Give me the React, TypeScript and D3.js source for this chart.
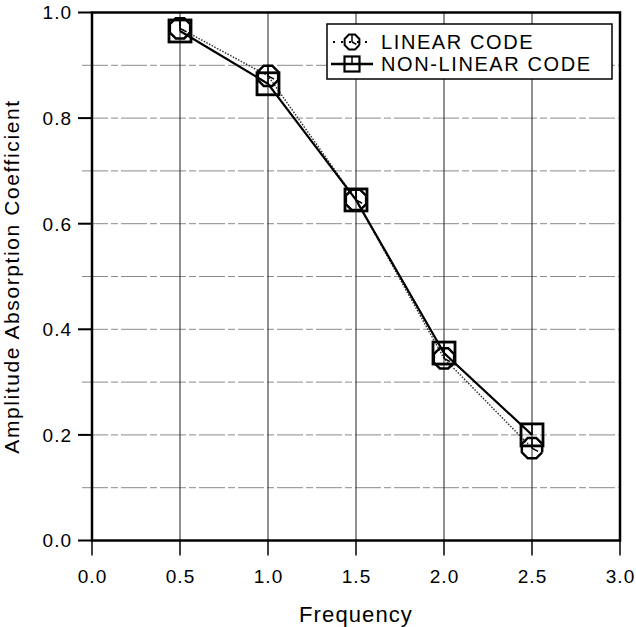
import React from "react";
import * as d3 from "d3";

const frequencies = [0.5, 1.0, 1.5, 2.0, 2.5];
const linearCode = [0.97, 0.88, 0.645, 0.345, 0.175];
const nonLinearCode = [0.965, 0.865, 0.645, 0.355, 0.2];
const xTicks = [0.0, 0.5, 1.0, 1.5, 2.0, 2.5, 3.0];
const yTicks = [0.0, 0.2, 0.4, 0.6, 0.8, 1.0];
const yGrid = [0.1, 0.2, 0.3, 0.4, 0.5, 0.6, 0.7, 0.8, 0.9];
const xGrid = [0.5, 1.0, 1.5, 2.0, 2.5];

const W = 636;
const H = 627;
const left = 92;
const right = 620;
const top = 12.5;
const bottom = 540.5;
const FONT = "'Liberation Sans', Arial, Helvetica, sans-serif";

const x = d3.scaleLinear().domain([0, 3]).range([left, right]);
const y = d3.scaleLinear().domain([0, 1]).range([bottom, top]);

function octagonPath(cx: number, cy: number, r: number) {
  const pts = d3.range(8).map((i) => {
    const a = Math.PI / 8 + (i * Math.PI) / 4;
    return [cx + r * Math.cos(a), cy + r * Math.sin(a)] as [number, number];
  });
  return d3.line()(pts.concat([pts[0]])) as string;
}

function Circ({ cx, cy, r, w = 2.5 }: { cx: number; cy: number; r: number; w?: number }) {
  return (
    <g stroke="#000" fill="none" strokeWidth={w}>
      <path d={octagonPath(cx, cy, r)} />
      <line x1={cx} y1={cy - r} x2={cx} y2={cy} strokeWidth={1.5} />
      <line x1={cx} y1={cy} x2={cx + r * 0.55} y2={cy + r * 0.3} strokeWidth={1.5} />
    </g>
  );
}

function Sq({ cx, cy, s, w = 2.8 }: { cx: number; cy: number; s: number; w?: number }) {
  return (
    <g stroke="#000" fill="none" strokeWidth={w}>
      <rect x={cx - s / 2} y={cy - s / 2} width={s} height={s} />
      <line x1={cx} y1={cy - s / 2} x2={cx} y2={cy} strokeWidth={1.5} />
    </g>
  );
}

export default function App() {
  const linePts = (vals: number[]) =>
    d3.line<number>().x((_, i) => x(frequencies[i])).y((v) => y(v))(vals) as string;

  return (
    <svg width={W} height={H} style={{ position: "absolute", left: 0, top: 0, background: "#fff" }}>
      <rect width={W} height={H} fill="#fff" />
      {/* horizontal grid */}
      {yGrid.map((v) => (
        <line
          key={"hg" + v}
          x1={left - 10}
          x2={right}
          y1={y(v)}
          y2={y(v)}
          stroke="#8a8a8a"
          strokeWidth={1}
          strokeDasharray="26 3 7 3"
        />
      ))}
      {/* vertical grid */}
      {xGrid.map((v) => (
        <line key={"vg" + v} x1={x(v)} x2={x(v)} y1={top} y2={bottom} stroke="#222" strokeWidth={1} />
      ))}
      {/* frame */}
      <rect x={left} y={top} width={right - left} height={bottom - top} fill="none" stroke="#000" strokeWidth={2.5} />
      {/* y ticks */}
      {yTicks.map((v) => (
        <g key={"yt" + v}>
          <line x1={left - 14} x2={left} y1={y(v)} y2={y(v)} stroke="#000" strokeWidth={2} />
          <text
            x={left - 20}
            y={y(v)}
            dy="0.36em"
            textAnchor="end"
            fontFamily={FONT}
            fontSize={19}
            letterSpacing={1}
            fill="#000"
          >
            {v.toFixed(1)}
          </text>
        </g>
      ))}
      {/* x ticks */}
      {xTicks.map((v) => (
        <g key={"xt" + v}>
          <line x1={x(v)} x2={x(v)} y1={bottom} y2={bottom + 15} stroke="#000" strokeWidth={1.5} />
          <text
            x={x(v) + 0.5}
            y={583}
            textAnchor="middle"
            fontFamily={FONT}
            fontSize={19}
            letterSpacing={1}
            fill="#000"
          >
            {v.toFixed(1)}
          </text>
        </g>
      ))}
      {/* axis titles */}
      <text
        x={(left + right) / 2}
        y={622}
        textAnchor="middle"
        fontFamily={FONT}
        fontSize={22}
        letterSpacing={1.1}
        fill="#000"
      >
        Frequency
      </text>
      <text
        transform={`translate(19,${(top + bottom) / 2}) rotate(-90)`}
        textAnchor="middle"
        fontFamily={FONT}
        fontSize={21}
        letterSpacing={1.6}
        fill="#000"
      >
        Amplitude Absorption Coefficient
      </text>
      {/* series lines */}
      <path d={linePts(linearCode)} fill="none" stroke="#333" strokeWidth={1.5} strokeDasharray="1.5 1.5" />
      <path d={linePts(nonLinearCode)} fill="none" stroke="#000" strokeWidth={2.2} />
      {/* markers */}
      {linearCode.map((v, i) => (
        <Circ key={"c" + i} cx={x(frequencies[i])} cy={y(v)} r={11} />
      ))}
      {nonLinearCode.map((v, i) => (
        <Sq key={"s" + i} cx={x(frequencies[i])} cy={y(v)} s={22} />
      ))}
      {/* legend */}
      <g>
        <rect x={327} y={24} width={285} height={55} fill="#fff" stroke="#000" strokeWidth={1.5} />
        <line x1={333} x2={372} y1={42} y2={42} stroke="#000" strokeWidth={2} strokeDasharray="2 6" />
        <Circ cx={352} cy={42} r={8} w={2} />
        <text x={381} y={42} dy="0.36em" fontFamily={FONT} fontSize={20} letterSpacing={1.6} fill="#000">
          LINEAR CODE
        </text>
        <line x1={331} x2={373} y1={64} y2={64} stroke="#000" strokeWidth={2.5} />
        <Sq cx={352} cy={64} s={15} w={2.2} />
        <text x={381} y={64} dy="0.36em" fontFamily={FONT} fontSize={20} letterSpacing={1.6} fill="#000">
          NON-LINEAR CODE
        </text>
      </g>
    </svg>
  );
}
